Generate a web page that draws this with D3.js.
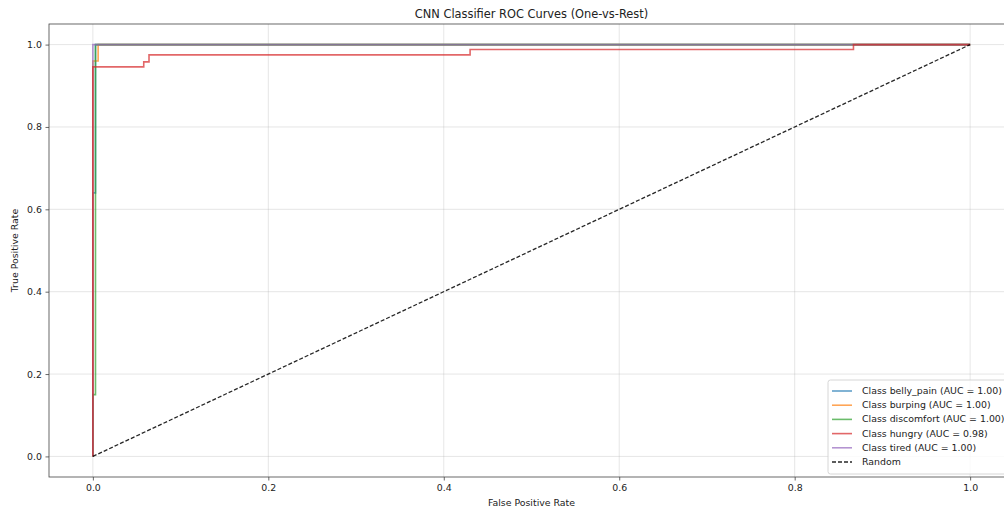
<!DOCTYPE html>
<html>
<head>
<meta charset="utf-8">
<script src="https://cdn.jsdelivr.net/npm/d3@7"></script>
<style>
  body { margin: 0; background: #fff; }
  text { font-family: "DejaVu Sans", sans-serif; fill: #222; }
</style>
</head>
<body>
<div id="chart"></div>
<script>
// ROC data (fpr, tpr) per class
var classNames = ['belly_pain', 'burping', 'discomfort', 'hungry', 'tired'];
var aucValues = [1.00, 1.00, 1.00, 0.98, 1.00];
var classColors = ['#1f77b4', '#ff7f0e', '#2ca02c', '#d62728', '#9467bd'];

var fprBellyPain = [0, 0, 0.003, 0.003, 1];
var tprBellyPain = [0, 0.64, 0.64, 1, 1];
var fprBurping = [0, 0, 0.006, 0.006, 1];
var tprBurping = [0, 0.96, 0.96, 1, 1];
var fprDiscomfort = [0, 0, 0.003, 0.003, 1];
var tprDiscomfort = [0, 0.15, 0.15, 1, 1];
var fprHungry = [0, 0, 0.058, 0.058, 0.064, 0.064, 0.43, 0.43, 0.867, 0.867, 1];
var tprHungry = [0, 0.946, 0.946, 0.958, 0.958, 0.975, 0.975, 0.988, 0.988, 1, 1];
var fprTired = [0, 0, 1];
var tprTired = [0, 1, 1];

var randomX = [0, 1];
var randomY = [0, 1];

var tickValues = [0.0, 0.2, 0.4, 0.6, 0.8, 1.0];

var curves = [
  [fprBellyPain, tprBellyPain],
  [fprBurping, tprBurping],
  [fprDiscomfort, tprDiscomfort],
  [fprHungry, tprHungry],
  [fprTired, tprTired]
].map(function (c, i) {
  return {
    name: 'Class ' + classNames[i] + ' (AUC = ' + aucValues[i].toFixed(2) + ')',
    color: classColors[i],
    points: c[0].map(function (x, j) { return [x, c[1][j]]; })
  };
});

// draw order: tired over the others along tpr = 1, hungry on top at fpr = 0
var drawOrder = [0, 1, 2, 4, 3];

var W = 1004, H = 508;
var plotLeft = 49, plotRight = 1014, plotTop = 24, plotBottom = 477;
var fs = '9.4px';

var x = d3.scaleLinear().domain([-0.05, 1.05]).range([plotLeft, plotRight]);
var y = d3.scaleLinear().domain([-0.05, 1.05]).range([plotBottom, plotTop]);

var svg = d3.select('#chart').append('svg')
  .attr('width', W).attr('height', H);
svg.append('rect').attr('width', W).attr('height', H).attr('fill', '#fff');

// grid
var grid = svg.append('g');
grid.selectAll('line.gx').data(tickValues).enter().append('line')
  .attr('x1', function (d) { return x(d); }).attr('x2', function (d) { return x(d); })
  .attr('y1', plotTop).attr('y2', plotBottom)
  .attr('stroke', '#b0b0b0').attr('stroke-opacity', 0.4).attr('stroke-width', 0.8);
grid.selectAll('line.gy').data(tickValues).enter().append('line')
  .attr('y1', function (d) { return y(d); }).attr('y2', function (d) { return y(d); })
  .attr('x1', plotLeft).attr('x2', plotRight)
  .attr('stroke', '#b0b0b0').attr('stroke-opacity', 0.4).attr('stroke-width', 0.8);

// curves
var line = d3.line()
  .x(function (d) { return x(d[0]); })
  .y(function (d) { return y(d[1]); });

svg.selectAll('path.roc').data(drawOrder.map(function (i) { return curves[i]; })).enter().append('path')
  .attr('class', 'roc')
  .attr('d', function (d) { return line(d.points); })
  .attr('fill', 'none')
  .attr('stroke', function (d) { return d.color; })
  .attr('stroke-opacity', 0.7)
  .attr('stroke-width', 1.6);

svg.append('path')
  .attr('d', line(randomX.map(function (v, i) { return [v, randomY[i]]; })))
  .attr('fill', 'none')
  .attr('stroke', '#000')
  .attr('stroke-opacity', 0.85)
  .attr('stroke-width', 1.3)
  .attr('stroke-dasharray', '4,2');

// axes
var xAxis = d3.axisBottom(x).tickValues(tickValues).tickFormat(d3.format('.1f')).tickSize(3.5).tickPadding(3.5);
var yAxis = d3.axisLeft(y).tickValues(tickValues).tickFormat(d3.format('.1f')).tickSize(3.5).tickPadding(3.5);

var gx = svg.append('g').attr('transform', 'translate(0,' + plotBottom + ')').call(xAxis);
var gy = svg.append('g').attr('transform', 'translate(' + plotLeft + ',0)').call(yAxis);
[gx, gy].forEach(function (g) {
  g.select('.domain').remove();
  g.selectAll('line').attr('stroke', '#444').attr('stroke-width', 0.8);
  g.selectAll('text').attr('font-size', fs).attr('fill', '#333');
});

svg.append('rect')
  .attr('x', plotLeft).attr('y', plotTop)
  .attr('width', plotRight - plotLeft).attr('height', plotBottom - plotTop)
  .attr('fill', 'none').attr('stroke', '#444').attr('stroke-width', 0.8);

// labels
svg.append('text').attr('x', (plotLeft + plotRight) / 2).attr('y', 18)
  .attr('text-anchor', 'middle').attr('font-size', '11.4px')
  .text('CNN Classifier ROC Curves (One-vs-Rest)');
svg.append('text').attr('x', (plotLeft + plotRight) / 2).attr('y', 506)
  .attr('text-anchor', 'middle').attr('font-size', fs)
  .text('False Positive Rate');
svg.append('text')
  .attr('transform', 'translate(18,' + ((plotTop + plotBottom) / 2) + ') rotate(-90)')
  .attr('text-anchor', 'middle').attr('font-size', fs)
  .text('True Positive Rate');

// legend
var legendItems = curves.map(function (c) { return { name: c.name, color: c.color, dash: null }; });
legendItems.push({ name: 'Random', color: '#000', dash: '4,2' });

var lg = svg.append('g');
var rowH = 14.2;
var lgTop = 380, lgLeft = 828;
lg.append('rect')
  .attr('x', lgLeft).attr('y', lgTop)
  .attr('width', plotRight - 4 - lgLeft).attr('height', 474 - lgTop)
  .attr('rx', 2.5)
  .attr('fill', '#fff').attr('fill-opacity', 0.8)
  .attr('stroke', '#ccc').attr('stroke-width', 0.8);

var rows = lg.selectAll('g.row').data(legendItems).enter().append('g')
  .attr('transform', function (d, i) { return 'translate(0,' + (lgTop + 11 + i * rowH) + ')'; });
rows.append('line')
  .attr('x1', lgLeft + 4).attr('x2', lgLeft + 24)
  .attr('stroke', function (d) { return d.color; })
  .attr('stroke-opacity', function (d) { return d.dash ? 0.85 : 0.7; })
  .attr('stroke-width', 1.6)
  .attr('stroke-dasharray', function (d) { return d.dash; });
rows.append('text')
  .attr('x', lgLeft + 34).attr('dy', '0.32em')
  .attr('font-size', fs)
  .attr('fill', '#333')
  .text(function (d) { return d.name; });
</script>
</body>
</html>
